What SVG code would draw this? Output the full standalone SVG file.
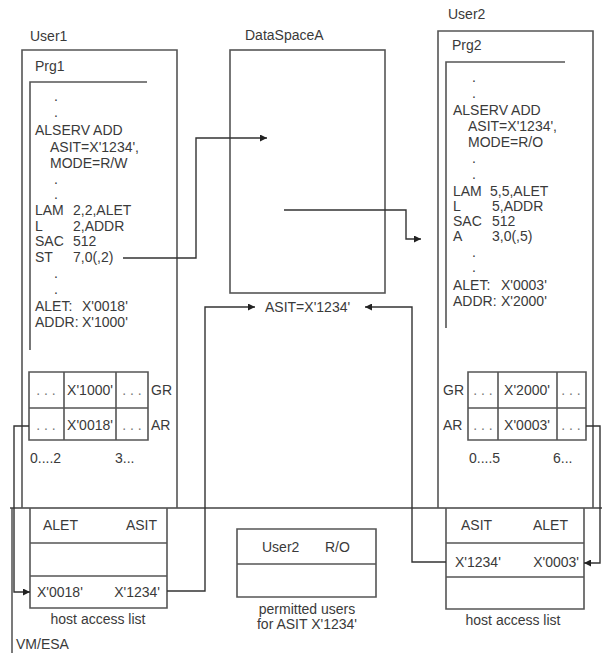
<svg xmlns="http://www.w3.org/2000/svg" width="602" height="653" viewBox="0 0 602 653">
<defs>
<marker id="arr" viewBox="0 0 10 10" refX="10" refY="5" markerWidth="9" markerHeight="7" markerUnits="userSpaceOnUse" orient="auto">
<path d="M0,0 L10,5 L0,10 z" fill="#222"/>
</marker>
<style>
text{font-family:"Liberation Sans",Arial,sans-serif;font-size:14px;fill:#3a3a3a}
.box{fill:none;stroke:#555;stroke-width:1.6}
.ln{fill:none;stroke:#444;stroke-width:1.4}
.con{fill:none;stroke:#333;stroke-width:1.4}
.dots{fill:#777}
.m{text-anchor:middle}
.e{text-anchor:end}
</style>
</defs>
<rect width="602" height="653" fill="#fff"/>

<g id="vmesa">
<path class="ln" d="M10 508 H602 M12 508 V653"/>
<text x="16" y="649">VM/ESA</text>
</g>

<g id="user1">
<text x="30" y="41">User1</text>
<path class="box" d="M22 508 V50 H177 V508"/>
<text x="35" y="71">Prg1</text>
<path class="box" d="M147 82 H30 V350"/>
<text x="54" y="101">.</text>
<text x="54" y="117">.</text>
<text x="35" y="135">ALSERV ADD</text>
<text x="50" y="152">ASIT=X'1234',</text>
<text x="50" y="168">MODE=R/W</text>
<text x="54" y="184">.</text>
<text x="54" y="199">.</text>
<text x="35" y="215">LAM</text><text x="73" y="215">2,2,ALET</text>
<text x="35" y="231">L</text><text x="73" y="231">2,ADDR</text>
<text x="35" y="246">SAC</text><text x="73" y="246">512</text>
<text x="35" y="262">ST</text><text x="73" y="262">7,0(,2)</text>
<text x="54" y="278">.</text>
<text x="54" y="294">.</text>
<text x="35" y="311">ALET:</text><text x="82" y="311">X'0018'</text>
<text x="35" y="327">ADDR:</text><text x="82" y="327">X'1000'</text>
</g>

<g id="regs1">
<path class="box" d="M29 372 H148 V440 H29 Z M29 408 H148 M64 372 V440 M116 372 V440"/>
<text class="m dots" x="46" y="395">. . .</text>
<text class="m" x="90" y="395">X'1000'</text>
<text class="m dots" x="132" y="395">. . .</text>
<text x="151" y="395">GR</text>
<text class="m dots" x="46" y="430">. . .</text>
<text class="m" x="90" y="430">X'0018'</text>
<text class="m dots" x="132" y="430">. . .</text>
<text x="151" y="430">AR</text>
<text x="30" y="463">0....2</text>
<text x="115" y="463">3...</text>
</g>

<g id="dataspaceA">
<text x="245" y="40">DataSpaceA</text>
<rect class="box" x="230" y="50" width="155" height="243"/>
<text x="265" y="312">ASIT=X'1234'</text>
</g>

<g id="user2">
<text x="448" y="19">User2</text>
<path class="box" d="M438 508 V31 H593 V508"/>
<text x="452" y="50">Prg2</text>
<path class="box" d="M565 62 H446 V328"/>
<text x="472" y="82">.</text>
<text x="472" y="98">.</text>
<text x="453" y="115">ALSERV ADD</text>
<text x="468" y="131">ASIT=X'1234',</text>
<text x="468" y="147">MODE=R/O</text>
<text x="472" y="163">.</text>
<text x="472" y="179">.</text>
<text x="453" y="196">LAM</text><text x="490" y="196">5,5,ALET</text>
<text x="453" y="211">L</text><text x="492" y="211">5,ADDR</text>
<text x="453" y="226">SAC</text><text x="492" y="226">512</text>
<text x="453" y="241">A</text><text x="492" y="241">3,0(,5)</text>
<text x="472" y="257">.</text>
<text x="472" y="272">.</text>
<text x="453" y="290">ALET:</text><text x="501" y="290">X'0003'</text>
<text x="453" y="306">ADDR:</text><text x="501" y="306">X'2000'</text>
</g>

<g id="regs2">
<path class="box" d="M468 372 H586 V440 H468 Z M468 408 H586 M498 372 V440 M557 372 V440"/>
<text x="443" y="395">GR</text>
<text class="m dots" x="483" y="395">. . .</text>
<text class="m" x="527" y="395">X'2000'</text>
<text class="m dots" x="571" y="395">. . .</text>
<text x="443" y="430">AR</text>
<text class="m dots" x="483" y="430">. . .</text>
<text class="m" x="527" y="430">X'0003'</text>
<text class="m dots" x="571" y="430">. . .</text>
<text x="469" y="463">0....5</text>
<text x="553" y="463">6...</text>
</g>

<g id="hostlist1">
<path class="box" d="M30 508 V608 H167 V508 M30 543 H167 M30 576 H167"/>
<text x="43" y="530">ALET</text>
<text class="e" x="157" y="530">ASIT</text>
<text x="37" y="597">X'0018'</text>
<text class="e" x="160" y="597">X'1234'</text>
<text class="m" x="98" y="624">host access list</text>
</g>

<g id="permitted">
<path class="box" d="M237 529 H376 V597 H237 Z M237 564 H376"/>
<text x="262" y="552">User2</text>
<text x="325" y="552">R/O</text>
<text class="m" x="307" y="614">permitted users</text>
<text class="m" x="307" y="629">for ASIT X'1234'</text>
</g>

<g id="hostlist2">
<path class="box" d="M446 508 V609 H584 V508 M446 543 H584 M446 577 H584"/>
<text x="461" y="530">ASIT</text>
<text class="e" x="568" y="530">ALET</text>
<text x="455" y="567">X'1234'</text>
<text class="e" x="579" y="567">X'0003'</text>
<text class="m" x="513" y="625">host access list</text>
</g>

<g id="connectors">
<path class="con" d="M123 258 H196 V138 H267" marker-end="url(#arr)"/>
<path class="con" d="M284 210 H406 V239 H421" marker-end="url(#arr)"/>
<path class="con" d="M167 591 H205 V307 H255" marker-end="url(#arr)"/>
<path class="con" d="M446 562 H412 V307 H365" marker-end="url(#arr)"/>
<path class="con" d="M29 426 H14 V592 H30" marker-end="url(#arr)"/>
<path class="con" d="M586 426 H600 V563 H584" marker-end="url(#arr)"/>
</g>
</svg>
